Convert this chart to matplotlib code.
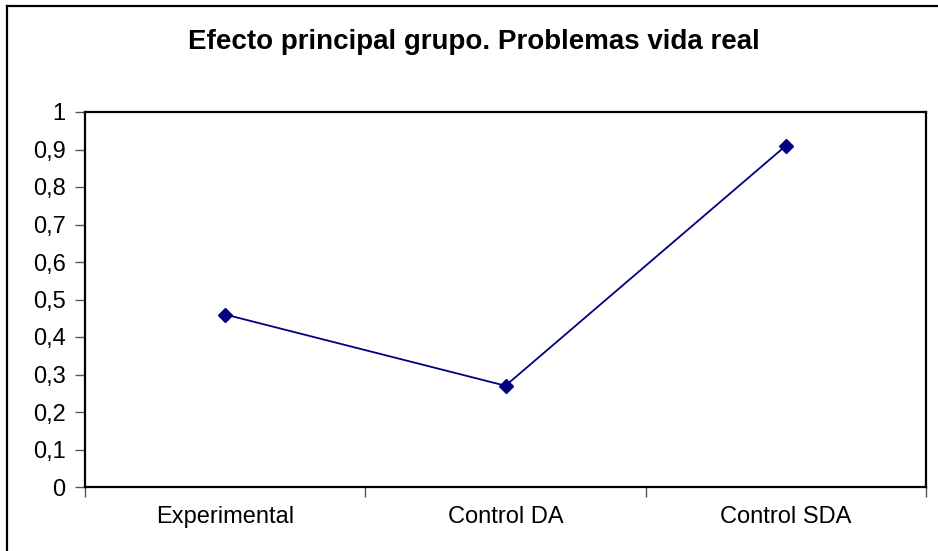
import matplotlib
matplotlib.use("Agg")
import numpy as np
import matplotlib.pyplot as plt
from matplotlib.lines import Line2D

# data
groups = ['Experimental', 'Control DA', 'Control SDA']
values = [0.46, 0.27, 0.91]
y_ticks = [0, 0.1, 0.2, 0.3, 0.4, 0.5, 0.6, 0.7, 0.8, 0.9, 1]
y_labels = ['0', '0,1', '0,2', '0,3', '0,4', '0,5', '0,6', '0,7', '0,8', '0,9', '1']
title = 'Efecto principal grupo. Problemas vida real'

plt.rcParams['font.family'] = ['Liberation Sans', 'DejaVu Sans']

W, H = 938, 551
fig = plt.figure(figsize=(W / 100, H / 100), dpi=100)
ax = fig.add_axes([85 / W, 1 - 487 / H, (926 - 85) / W, (487 - 112) / H])

x = np.arange(len(groups)) + 0.5
ax.plot(x, values, color='#000080', lw=1.3, marker='D', ms=7,
        markerfacecolor='#000080', markeredgecolor='#000080')

ax.set_xlim(0, len(groups))
ax.set_ylim(0, 1)

# category boundaries as major ticks, labels centered on minor ticks
ax.set_xticks(np.arange(len(groups) + 1))
ax.set_xticklabels([])
ax.set_xticks(x, minor=True)
ax.set_xticklabels(groups, minor=True)
ax.tick_params(axis='x', which='minor', length=0, pad=14, labelsize=17)
ax.tick_params(axis='x', which='major', length=7, width=1, color='#555555', direction='out')

ax.set_yticks(y_ticks)
ax.set_yticklabels(y_labels)
ax.tick_params(axis='y', length=7, width=1, color='#555555', direction='out',
               pad=7, labelsize=17)

for s in ax.spines.values():
    s.set_linewidth(1.6)
    s.set_color('black')

fig.text(474 / W, 1 - 42 / H, title, ha='center', va='center',
         fontsize=20, fontweight='bold')

# outer chart frame (only top and left edges visible)
fig.add_artist(Line2D([7 / W, 1], [1 - 6 / H, 1 - 6 / H], transform=fig.transFigure,
                      color='black', lw=1.6))
fig.add_artist(Line2D([7 / W, 7 / W], [0, 1 - 6 / H], transform=fig.transFigure,
                      color='black', lw=1.6))

fig.savefig('out.png', dpi=100)
